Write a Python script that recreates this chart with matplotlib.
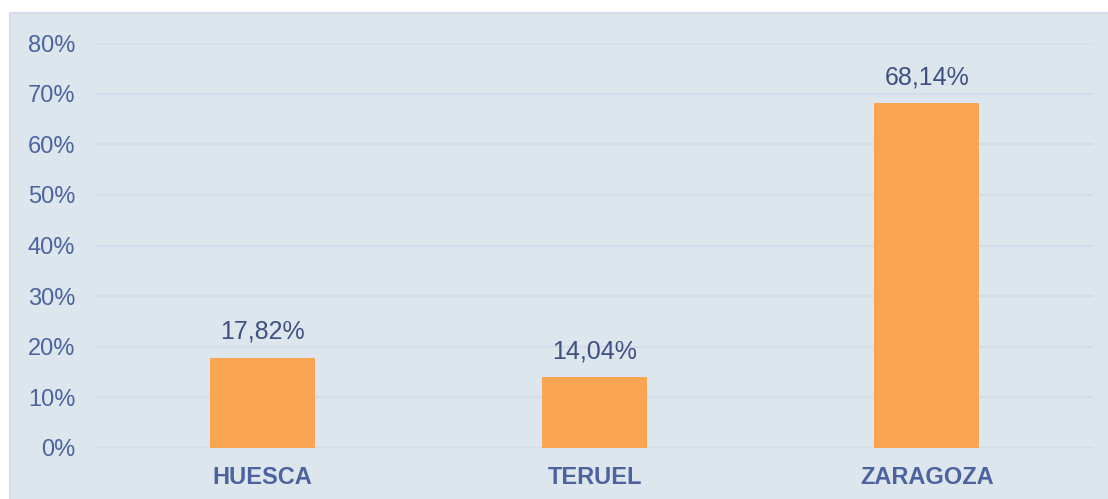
import matplotlib
matplotlib.use("Agg")
import matplotlib.pyplot as plt
from matplotlib.patches import Rectangle

categories = ["HUESCA", "TERUEL", "ZARAGOZA"]
values = [17.82, 14.04, 68.14]
value_labels = ["17,82%", "14,04%", "68,14%"]
yticks = [0, 10, 20, 30, 40, 50, 60, 70, 80]
ytick_labels = ["0%", "10%", "20%", "30%", "40%", "50%", "60%", "70%", "80%"]

plt.rcParams['font.family'] = ['Liberation Sans', 'DejaVu Sans']

fig = plt.figure(figsize=(11.08, 4.99), dpi=100)
fig.patch.set_facecolor("white")
bg = Rectangle((10/1108, -0.01), 1.02, 1 - 13/499 + 0.01, transform=fig.transFigure,
               facecolor="#DCE6EC", edgecolor="#D6DAEE", linewidth=1.5, zorder=-10)
fig.patches.append(bg)

ax = fig.add_axes([96/1108, (499-448)/499, (1093-96)/1108, (448-43)/499])
ax.set_zorder(5)
ax.set_facecolor("none")
x = list(range(len(categories)))
ax.bar(x, values, width=0.315, color="#FAA552", zorder=3)
ax.set_xlim(-0.5, 2.5)
ax.set_ylim(0, 80)
ax.set_yticks(yticks)
ax.set_yticklabels(ytick_labels, fontsize=17, color="#4C63A0")
ax.set_xticks(x)
ax.set_xticklabels(categories, fontsize=17, fontweight="bold", color="#4C63A0")
ax.tick_params(axis="y", length=0, pad=15)
ax.tick_params(axis="x", length=0, pad=13)
ax.grid(axis="y", color="#D5DAEC", linewidth=1.5, zorder=0)
ax.set_axisbelow(True)
for s in ax.spines.values():
    s.set_visible(False)
for xi, v, lab in zip(x, values, value_labels):
    ax.annotate(lab, (xi, v), xytext=(0, 10), textcoords="offset points",
                ha="center", va="bottom", fontsize=18, color="#3F5083")

fig.savefig("out.png", dpi=100)
